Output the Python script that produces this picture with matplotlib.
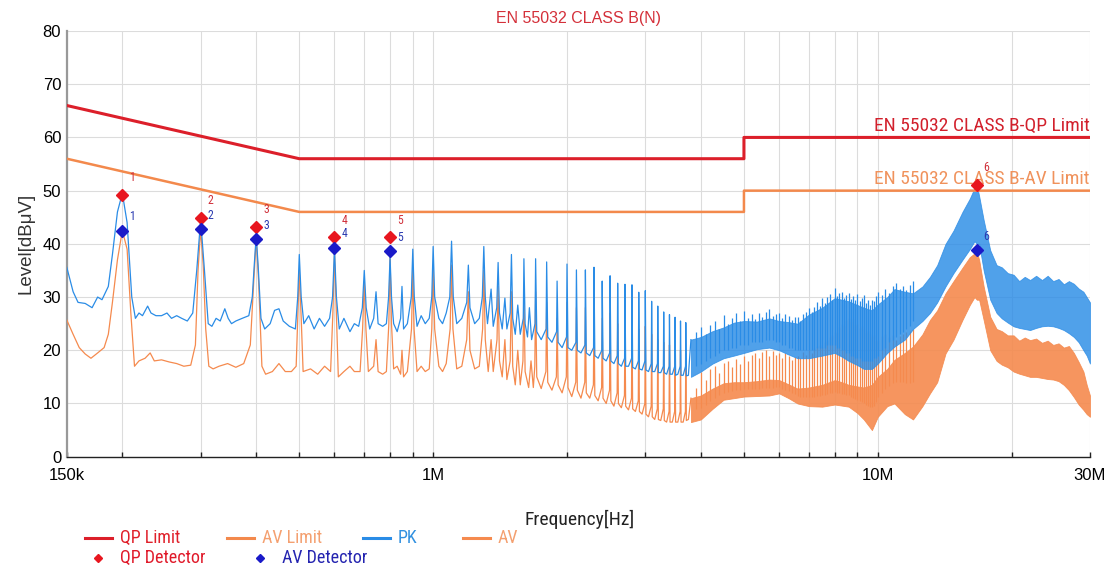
import numpy as np
import matplotlib
matplotlib.use('Agg')
import matplotlib.pyplot as plt
from matplotlib import font_manager
from matplotlib.ticker import FixedLocator, NullFormatter
from matplotlib.lines import Line2D

# ---- data (frequency in MHz, level in dBuV) ----
qp_lim_f = [0.15, 0.5, 5.0, 5.0, 30.0]
qp_lim_v = [66, 56, 56, 60, 60]
av_lim_f = [0.15, 0.5, 5.0, 5.0, 30.0]
av_lim_v = [56, 46, 46, 50, 50]

det_f = [0.200, 0.300, 0.400, 0.600, 0.800, 16.7]
qp_det_v = [49.2, 44.8, 43.1, 41.2, 41.2, 51.1]
av_det_v = [42.5, 42.7, 40.9, 39.3, 38.6, 38.8]
det_tags = ['1', '2', '3', '4', '5', '6']

# PK trace, low band (resolved harmonics)
pk_pts = [
    (0.150, 35.6), (0.155, 31.0), (0.159, 29.0), (0.165, 28.8), (0.171, 28.0), (0.176, 30.0),
    (0.180, 29.5), (0.186, 32.0), (0.190, 38.0), (0.195, 46.0), (0.200, 49.5), (0.205, 44.0),
    (0.210, 30.0), (0.214, 26.0), (0.218, 27.0), (0.222, 26.5), (0.228, 28.3), (0.232, 27.0),
    (0.238, 26.5), (0.245, 26.5), (0.252, 27.0), (0.258, 26.0), (0.265, 26.5), (0.272, 26.0),
    (0.280, 25.5), (0.288, 27.0), (0.294, 35.0), (0.300, 44.5), (0.306, 35.0), (0.312, 25.0),
    (0.318, 24.5), (0.325, 26.0), (0.332, 25.5), (0.340, 27.8), (0.346, 26.0), (0.352, 25.0),
    (0.360, 25.5), (0.372, 26.0), (0.385, 26.5), (0.392, 30.0), (0.396, 36.0), (0.400, 41.5),
    (0.404, 36.0), (0.410, 26.0), (0.418, 24.0), (0.430, 25.0), (0.440, 27.5), (0.450, 27.8),
    (0.460, 25.5), (0.475, 24.5), (0.490, 24.0), (0.496, 30.0), (0.500, 38.0), (0.505, 30.0),
    (0.512, 25.0), (0.525, 26.5), (0.540, 24.0), (0.555, 26.0), (0.570, 24.5), (0.585, 26.0),
    (0.594, 30.0), (0.600, 39.0), (0.606, 30.0), (0.615, 24.0), (0.630, 26.0), (0.650, 23.5),
    (0.665, 25.0), (0.680, 24.5), (0.693, 28.0), (0.700, 35.0), (0.707, 28.0), (0.720, 24.0),
    (0.735, 26.0), (0.744, 31.0), (0.752, 25.0), (0.770, 24.5), (0.785, 25.0), (0.794, 30.0),
    (0.800, 37.5), (0.806, 30.0), (0.815, 25.0), (0.830, 23.5), (0.845, 26.0), (0.851, 32.0),
    (0.858, 24.0), (0.875, 25.0), (0.893, 30.0), (0.900, 39.0), (0.907, 30.0), (0.920, 24.5),
    (0.940, 26.5), (0.960, 25.0), (0.980, 26.0), (0.993, 30.0), (1.000, 39.5), (1.008, 30.0),
    (1.030, 26.0), (1.050, 25.0), (1.070, 27.0), (1.090, 30.0), (1.100, 40.5), (1.110, 30.0),
    (1.130, 25.0), (1.160, 26.0), (1.190, 29.0), (1.200, 36.0), (1.210, 28.0), (1.240, 25.0),
    (1.270, 26.0), (1.290, 30.0), (1.300, 39.5), (1.310, 30.0), (1.325, 25.0), (1.350, 31.5),
    (1.365, 24.5), (1.390, 28.0), (1.400, 36.5), (1.410, 27.0), (1.430, 24.0), (1.450, 29.8),
    (1.465, 24.0), (1.490, 27.0), (1.500, 38.0), (1.510, 26.0), (1.530, 23.0), (1.550, 28.5),
    (1.570, 23.0), (1.595, 26.0), (1.600, 37.2), (1.610, 25.0), (1.630, 22.5), (1.646, 28.0),
    (1.665, 22.0), (1.695, 25.0), (1.700, 37.2), (1.710, 23.5), (1.750, 22.0), (1.795, 24.0),
    (1.800, 36.6), (1.810, 22.5), (1.850, 21.5), (1.895, 23.5), (1.900, 33.0), (1.910, 21.5),
    (1.950, 20.5), (1.995, 22.5), (2.000, 36.2), (2.010, 20.5), (2.050, 20.0), (2.095, 21.5),
    (2.100, 35.1), (2.110, 20.0), (2.150, 19.5), (2.195, 21.0), (2.200, 35.1), (2.210, 19.5),
    (2.250, 19.0), (2.295, 20.5), (2.300, 35.6), (2.310, 19.0), (2.350, 18.5), (2.395, 20.0),
    (2.400, 33.0), (2.410, 18.5), (2.450, 18.0), (2.495, 19.5), (2.500, 34.0), (2.510, 18.0),
    (2.550, 17.5), (2.595, 19.0), (2.600, 32.6), (2.610, 17.5), (2.650, 17.0), (2.695, 18.5),
    (2.700, 32.4), (2.710, 17.0), (2.750, 17.0), (2.795, 18.5), (2.800, 32.3), (2.810, 16.8),
    (2.850, 16.5), (2.895, 18.0), (2.900, 30.9), (2.910, 16.5), (2.950, 16.3), (2.995, 18.0),
    (3.000, 31.2), (3.010, 16.3), (3.050, 16.0), (3.095, 17.5), (3.100, 29.2), (3.110, 16.0),
    (3.150, 16.0), (3.195, 17.5), (3.200, 28.3), (3.210, 15.8), (3.250, 15.8), (3.295, 17.0),
    (3.300, 27.2), (3.310, 15.8), (3.350, 15.5), (3.395, 17.0), (3.400, 26.7), (3.410, 15.5),
    (3.450, 15.5), (3.495, 17.0), (3.500, 26.2), (3.510, 15.3), (3.550, 15.5), (3.595, 17.0),
    (3.600, 25.5), (3.610, 15.3), (3.650, 15.3), (3.695, 17.0), (3.700, 25.2), (3.710, 15.2),
    (3.750, 15.3), (3.800, 22.0),
]

# AV trace, low band
av_pts = [
    (0.150, 25.7), (0.155, 23.0), (0.160, 20.5), (0.165, 19.3), (0.170, 18.5), (0.176, 19.5),
    (0.182, 20.5), (0.186, 23.0), (0.190, 29.0), (0.195, 37.0), (0.200, 42.5), (0.205, 39.0),
    (0.209, 27.0), (0.213, 17.0), (0.218, 18.0), (0.225, 18.5), (0.231, 19.5), (0.236, 18.0),
    (0.245, 18.2), (0.255, 17.8), (0.265, 17.5), (0.275, 17.0), (0.285, 17.2), (0.292, 21.0),
    (0.296, 35.0), (0.300, 42.7), (0.304, 36.0), (0.308, 24.0), (0.313, 17.0), (0.320, 16.5),
    (0.330, 17.0), (0.345, 17.5), (0.360, 16.8), (0.375, 17.5), (0.388, 21.0), (0.395, 33.0),
    (0.400, 41.0), (0.405, 33.0), (0.412, 17.0), (0.420, 15.5), (0.435, 16.0), (0.450, 17.5),
    (0.465, 16.0), (0.480, 16.0), (0.492, 17.0), (0.496, 26.0), (0.500, 35.0), (0.505, 26.0),
    (0.510, 16.0), (0.530, 16.5), (0.550, 15.5), (0.570, 17.0), (0.588, 16.0), (0.595, 27.0),
    (0.600, 38.5), (0.606, 27.0), (0.612, 15.0), (0.630, 16.0), (0.650, 17.0), (0.665, 16.0),
    (0.685, 16.0), (0.694, 24.0), (0.700, 33.0), (0.706, 24.0), (0.715, 16.0), (0.735, 17.0),
    (0.744, 22.0), (0.752, 16.0), (0.770, 15.5), (0.785, 16.0), (0.795, 25.0), (0.800, 37.5),
    (0.806, 25.0), (0.815, 16.5), (0.830, 17.0), (0.845, 15.5), (0.851, 20.0), (0.858, 15.0),
    (0.875, 16.0), (0.894, 24.0), (0.900, 35.0), (0.906, 24.0), (0.920, 16.0), (0.940, 17.0),
    (0.960, 16.0), (0.980, 16.5), (0.993, 24.0), (1.000, 35.5), (1.008, 24.0), (1.030, 17.0),
    (1.050, 16.0), (1.070, 17.5), (1.092, 24.0), (1.100, 36.0), (1.108, 24.0), (1.130, 16.5),
    (1.160, 17.0), (1.190, 22.0), (1.200, 31.0), (1.210, 20.0), (1.240, 16.5), (1.270, 17.0),
    (1.292, 24.0), (1.300, 35.0), (1.310, 22.0), (1.330, 16.0), (1.350, 22.0), (1.365, 16.0),
    (1.392, 22.0), (1.400, 32.0), (1.410, 18.0), (1.430, 15.0), (1.450, 22.0), (1.465, 14.5),
    (1.490, 18.0), (1.500, 31.0), (1.510, 17.0), (1.530, 13.5), (1.550, 20.0), (1.570, 13.5),
    (1.592, 18.0), (1.600, 31.0), (1.610, 16.0), (1.640, 13.0), (1.660, 18.0), (1.680, 13.0),
    (1.693, 17.0), (1.700, 31.0), (1.710, 15.0), (1.750, 12.8), (1.793, 16.0), (1.800, 29.0),
    (1.810, 14.0), (1.850, 12.5), (1.893, 15.0), (1.900, 26.0), (1.910, 13.5), (1.950, 12.0),
    (1.993, 15.0), (2.000, 29.0), (2.010, 13.0), (2.050, 11.3), (2.093, 14.0), (2.100, 28.0),
    (2.110, 12.5), (2.150, 11.0), (2.193, 14.0), (2.200, 28.0), (2.210, 12.0), (2.250, 11.0),
    (2.293, 13.5), (2.300, 28.0), (2.310, 11.5), (2.350, 10.5), (2.393, 13.0), (2.400, 26.0),
    (2.410, 11.0), (2.450, 10.0), (2.493, 12.5), (2.500, 27.0), (2.510, 10.5), (2.550, 9.5),
    (2.593, 12.0), (2.600, 25.0), (2.610, 10.0), (2.650, 9.2), (2.693, 11.5), (2.700, 25.0),
    (2.710, 9.5), (2.750, 8.8), (2.793, 11.0), (2.800, 25.0), (2.810, 9.0), (2.850, 8.5),
    (2.893, 10.5), (2.900, 24.0), (2.910, 8.5), (2.950, 8.0), (2.993, 10.0), (3.000, 24.5),
    (3.010, 8.0), (3.050, 7.5), (3.093, 9.5), (3.100, 23.0), (3.110, 7.5), (3.150, 7.0),
    (3.193, 9.0), (3.200, 22.0), (3.210, 7.0), (3.250, 6.8), (3.293, 9.0), (3.300, 21.5),
    (3.310, 6.8), (3.350, 6.5), (3.393, 8.5), (3.400, 21.0), (3.410, 6.5), (3.450, 6.5),
    (3.493, 8.5), (3.500, 20.5), (3.510, 6.5), (3.550, 6.5), (3.593, 8.5), (3.600, 20.0),
    (3.610, 6.5), (3.650, 6.5), (3.693, 8.5), (3.700, 19.5), (3.710, 6.8), (3.750, 7.0),
    (3.800, 11.0),
]

# upper band (unresolved harmonics): lower/upper envelope of each trace
band_f = [3.8, 4.0, 4.25, 4.5, 4.75, 5.0, 5.35, 5.7, 6.0, 6.3,
          6.6, 7.0, 7.5, 8.0, 8.3, 8.6, 9.0, 9.3, 9.7, 10.0,
          10.5, 10.9, 11.5, 12.0, 12.6, 13.1, 13.6, 14.2, 14.8, 15.5,
          16.1, 16.5, 16.7, 16.9, 17.3, 17.9, 18.5, 19.0, 19.6, 20.2,
          20.8, 21.4, 22.0, 22.7, 23.4, 24.1, 24.8, 25.5, 26.2, 26.9,
          27.6, 28.3, 29.0, 29.5, 30.0]
pk_lo = [15.0, 16.0, 17.5, 18.5, 19.0, 19.5, 20.2, 20.5, 20.0, 19.2,
         18.5, 18.5, 19.0, 19.5, 18.8, 18.0, 17.2, 16.5, 16.5, 17.5,
         19.5, 20.7, 22.0, 24.0, 25.5, 27.0, 29.0, 32.0, 34.5, 37.0,
         39.0, 40.5, 40.0, 40.0, 35.0, 29.5, 27.0, 26.0, 25.2, 24.5,
         24.2, 24.0, 23.8, 24.2, 24.5, 24.6, 24.5, 24.2, 23.8, 23.2,
         22.5, 21.5, 20.0, 19.0, 17.5]
pk_hi = [22.0, 22.5, 23.6, 24.3, 25.2, 25.5, 25.4, 26.0, 25.5, 25.3,
         25.0, 26.7, 28.0, 29.8, 29.5, 29.2, 28.5, 28.0, 27.5, 28.6,
         30.0, 31.5, 31.0, 30.7, 32.0, 33.8, 36.0, 40.0, 42.5, 46.0,
         48.5, 50.5, 51.0, 49.0, 44.5, 38.8, 36.0, 35.6, 34.5, 34.2,
         33.0, 33.8, 33.2, 34.0, 33.2, 34.0, 33.0, 33.4, 32.4, 33.0,
         32.5, 31.6, 31.0, 30.0, 29.0]
av_lo = [6.5, 7.0, 9.0, 10.7, 11.0, 11.3, 11.4, 11.5, 11.9, 11.0,
         10.0, 9.5, 9.4, 9.8, 9.6, 9.4, 8.2, 7.0, 5.0, 7.5,
         9.5, 10.0, 8.0, 7.0, 9.5, 11.9, 14.0, 19.4, 22.0, 25.7,
         28.5, 30.0, 29.5, 29.5, 25.7, 20.0, 18.0, 17.3, 16.8, 16.0,
         15.6, 15.3, 15.0, 15.0, 14.8, 14.6, 14.5, 14.2, 13.5, 12.5,
         11.2, 9.8, 8.8, 8.0, 7.5]
av_hi = [11.0, 11.5, 12.8, 13.8, 14.0, 14.0, 14.2, 14.5, 14.4, 13.6,
         12.8, 13.0, 13.5, 14.4, 14.0, 13.5, 13.2, 13.0, 13.5, 15.0,
         16.5, 18.2, 19.5, 20.7, 23.0, 25.7, 27.5, 30.7, 33.0, 35.5,
         37.5, 38.2, 38.5, 37.0, 32.0, 26.3, 24.0, 23.6, 22.8, 22.8,
         21.8, 22.4, 21.9, 22.2, 21.4, 21.8, 21.0, 21.3, 20.5, 20.8,
         19.5, 17.8, 16.0, 13.5, 11.5]

# harmonic spikes sticking out of the band (top and foot of each)
spk_f = [3.9, 4.0, 4.1, 4.2, 4.3, 4.4, 4.5, 4.6, 4.7, 4.8,
         4.9, 5.0, 5.1, 5.2, 5.3, 5.4, 5.5, 5.6, 5.7, 5.8,
         5.9, 6.0, 6.1, 6.2, 6.3, 6.4, 6.5, 6.6, 6.7, 6.8,
         6.9, 7.0, 7.1, 7.2, 7.3, 7.4, 7.5, 7.6, 7.7, 7.8,
         7.9, 8.0, 8.1, 8.2, 8.3, 8.4, 8.5, 8.6, 8.7, 8.8,
         8.9, 9.0, 9.1, 9.2, 9.3, 9.4, 9.5, 9.6, 9.7, 9.8,
         9.9, 10.0, 10.2, 10.4, 10.6, 10.8, 11.0, 11.2, 11.4, 11.6,
         11.8, 12.0]
pk_spk = [23.5, 24.3, 23.0, 24.8, 25.5, 24.0, 26.7, 25.0, 26.0, 27.0,
          25.5, 27.3, 26.0, 26.8, 25.8, 27.0, 26.2, 27.2, 27.7, 26.5,
          26.8, 27.0, 26.0, 26.8, 26.5, 25.6, 26.2, 26.3, 25.5, 26.8,
          27.2, 28.0, 27.2, 28.2, 29.0, 28.4, 29.8, 28.8, 30.0, 30.5,
          29.5, 31.7, 30.2, 30.8, 31.0, 29.8, 30.4, 30.8, 29.6, 30.2,
          29.4, 30.5, 29.2, 29.8, 30.4, 28.8, 29.4, 28.6, 29.5, 29.2,
          30.2, 31.0, 30.4, 31.5, 30.8, 32.0, 32.6, 31.6, 32.0, 31.4,
          32.2, 33.0]
pk_spk_foot = [17.0, 17.5, 18.0, 18.5, 19.0, 19.5, 20.0, 20.0, 20.5, 20.5,
               21.0, 21.0, 21.0, 21.5, 21.5, 21.5, 21.5, 22.0, 22.0, 22.0,
               21.5, 21.5, 21.0, 21.0, 20.5, 20.5, 20.0, 20.0, 20.0, 20.0,
               20.0, 20.0, 20.0, 20.0, 20.5, 20.5, 20.5, 20.5, 21.0, 21.0,
               21.0, 21.0, 20.5, 20.5, 20.0, 20.0, 19.5, 19.5, 19.0, 19.0,
               18.5, 18.5, 18.5, 18.0, 18.0, 18.0, 18.0, 18.0, 18.0, 18.5,
               18.5, 19.0, 20.0, 20.5, 21.5, 22.0, 22.5, 23.0, 23.5, 24.0,
               24.5, 25.5]
av_spk = [13.0, 16.0, 14.5, 16.5, 17.0, 15.8, 17.6, 18.0, 16.8, 18.4,
          17.5, 19.0, 18.0, 19.2, 19.5, 18.5, 19.6, 20.0, 19.0, 19.8,
          19.2, 19.5, 18.6, 19.4, 19.0, 18.2, 18.8, 19.0, 18.5, 19.6,
          19.2, 20.0, 19.5, 20.4, 20.8, 21.0, 20.6, 21.6, 22.0, 22.4,
          22.8, 23.5, 23.2, 24.4, 25.0, 24.6, 25.6, 26.0, 25.4, 25.8,
          24.8, 25.0, 24.2, 24.6, 24.0, 23.2, 23.6, 23.0, 22.4, 22.8,
          21.8, 22.0, 22.6, 23.0, 22.4, 22.8, 22.0, 22.6, 23.0, 23.4,
          23.6, 24.0]
av_spk_foot = [9.0, 9.2, 9.8, 10.5, 11.0, 11.5, 12.0, 12.2, 12.4, 12.5,
               12.6, 12.7, 12.7, 12.8, 12.8, 12.8, 12.9, 13.0, 13.0, 13.0,
               13.1, 13.1, 12.8, 12.6, 12.3, 12.0, 11.7, 11.4, 11.3, 11.3,
               11.2, 11.2, 11.3, 11.3, 11.4, 11.4, 11.5, 11.6, 11.7, 11.9,
               12.0, 12.1, 12.0, 11.9, 11.8, 11.7, 11.6, 11.5, 11.3, 11.1,
               10.9, 10.7, 10.5, 10.2, 10.0, 9.8, 9.6, 9.4, 9.3, 9.6,
               10.2, 11.3, 12.0, 12.8, 13.3, 13.8, 14.0, 14.0, 14.0, 13.8,
               13.8, 14.0]

x_major = [0.15, 1.0, 10.0, 30.0]
x_major_lbl = ['150k', '1M', '10M', '30M']
x_minor = [0.2, 0.3, 0.4, 0.5, 0.6, 0.7, 0.8, 0.9, 2, 3, 4, 5, 6, 7, 8, 9, 20]

# ---- style ----
C_QP = '#dc1f2a'
C_AVL = '#f3894c'
C_PK = '#2a8ce6'
C_AV = '#f58a4e'
C_QPD = '#e8161f'
C_AVD = '#1a1ac8'

plt.rcParams['font.family'] = ['Liberation Sans', 'DejaVu Sans']

# narrow face if one is installed, otherwise the regular one a bit smaller
installed = {f.name for f in font_manager.fontManager.ttflist}
narrow = None
for cand in ['Liberation Sans Narrow', 'Arial Narrow', 'Roboto Condensed', 'Open Sans Condensed']:
    if cand in installed:
        narrow = cand
        break
if narrow:
    NF = [narrow, 'Liberation Sans', 'DejaVu Sans']
    sz_lim, sz_leg, sz_xl = 14, 13, 14
else:
    NF = ['Liberation Sans', 'DejaVu Sans']
    sz_lim, sz_leg, sz_xl = 11.5, 11, 11.8

MHZ = 1e6

fig = plt.figure(figsize=(11.13, 5.71), dpi=100)
ax = fig.add_axes([0.0600, 0.2002, 0.9193, 0.7455])

ax.set_xscale('log')
ax.set_xlim(0.15 * MHZ, 30 * MHZ)
ax.set_ylim(0, 80)

# limits
ax.plot(np.array(qp_lim_f) * MHZ, qp_lim_v, color=C_QP, lw=2.2, zorder=6)
ax.plot(np.array(av_lim_f) * MHZ, av_lim_v, color=C_AVL, lw=1.8, zorder=6)

spk_hz = np.array(spk_f) * MHZ
band_hz = np.array(band_f) * MHZ

# AV trace
av_f, av_v = zip(*av_pts)
ax.plot(np.array(av_f) * MHZ, av_v, color=C_AV, lw=0.9, zorder=3)
ax.vlines(spk_hz, av_spk_foot, av_spk, color=C_AV, lw=0.9, zorder=3)
ax.fill_between(band_hz, av_lo, av_hi, color=C_AV, lw=0.6, alpha=0.9, zorder=3)

# PK trace
pk_f, pk_v = zip(*pk_pts)
ax.plot(np.array(pk_f) * MHZ, pk_v, color=C_PK, lw=0.9, zorder=4)
ax.vlines(spk_hz, pk_spk_foot, pk_spk, color=C_PK, lw=0.9, zorder=4)
ax.fill_between(band_hz, pk_lo, pk_hi, color=C_PK, lw=0.6, alpha=0.82, zorder=4)

# detector markers
det_hz = np.array(det_f) * MHZ
ax.plot(det_hz, qp_det_v, ls='none', marker='D', ms=6.5, color=C_QPD, zorder=8)
ax.plot(det_hz, av_det_v, ls='none', marker='D', ms=6.5, color=C_AVD, zorder=8)
for f, q, a, t in zip(det_hz, qp_det_v, av_det_v, det_tags):
    ax.annotate(t, (f, q), xytext=(7, 12.5), textcoords='offset points', ha='center',
                va='center', fontsize=8.5, color='#d0303a', family=NF, zorder=9)
    ax.annotate(t, (f, a), xytext=(7, 9.8), textcoords='offset points', ha='center',
                va='center', fontsize=8.5, color='#2a3ab0', family=NF, zorder=9)

# limit labels
ax.text(30 * MHZ, 61.3, 'EN 55032 CLASS B-QP Limit', ha='right', va='baseline',
        fontsize=sz_lim, color='#d2202c', family=NF, zorder=7)
ax.text(30 * MHZ, 51.2, 'EN 55032 CLASS B-AV Limit', ha='right', va='baseline',
        fontsize=sz_lim, color='#f0925c', family=NF, zorder=7)

# axes cosmetics
ax.xaxis.set_major_locator(FixedLocator(np.array(x_major) * MHZ))
ax.xaxis.set_minor_locator(FixedLocator(np.array(x_minor) * MHZ))
ax.set_xticklabels(x_major_lbl)
ax.xaxis.set_minor_formatter(NullFormatter())
ax.set_yticks(range(0, 81, 10))
ax.grid(True, which='both', color='#dcdcdc', lw=0.8, zorder=0)
ax.set_axisbelow(True)
for s in ['top', 'right']:
    ax.spines[s].set_visible(False)
ax.spines['left'].set_color('#999999')
ax.spines['left'].set_linewidth(1.6)
ax.spines['bottom'].set_color('#222222')
ax.spines['bottom'].set_linewidth(1.0)
ax.tick_params(axis='x', which='both', direction='in', length=3.5, width=1.0,
               color='#222222', pad=8.5, labelsize=12)
ax.tick_params(axis='y', length=0, pad=4, labelsize=12)

ax.set_title('EN 55032 CLASS B(N)', color='#d4303a', fontsize=11.5, pad=6)
ax.set_ylabel('Level[dB\u03bcV]', fontsize=13.5, color='#333333', labelpad=6)
fig.text(580 / 1113, 1 - 519 / 571, 'Frequency[Hz]', ha='center', va='center',
         fontsize=sz_xl, color='#222222', family=NF)


# legend drawn by hand (figure pixel positions)
def fx(px):
    return px / 1113


def fy(py):
    return 1 - py / 571


row1 = [('QP Limit', C_QP, 85, '#e0202a'), ('AV Limit', C_AVL, 227, '#f4a070'),
        ('PK', C_PK, 363, '#3090e0'), ('AV', C_AV, 463, '#f4a070')]
for lbl, c, x0, tc in row1:
    fig.add_artist(Line2D([fx(x0), fx(x0 + 27)], [fy(538), fy(538)], color=c, lw=2.2))
    fig.text(fx(x0 + 35), fy(538), lbl, ha='left', va='center', fontsize=sz_leg,
             color=tc, family=NF)
row2 = [('QP Detector', C_QPD, 98, '#e01a2a'), ('AV Detector', C_AVD, 260, '#2424b0')]
for lbl, c, x0, tc in row2:
    fig.add_artist(Line2D([fx(x0)], [fy(558)], marker='D', ms=4.5, color=c, ls='none'))
    fig.text(fx(x0 + 22), fy(558), lbl, ha='left', va='center', fontsize=sz_leg,
             color=tc, family=NF)

fig.savefig('out.png', dpi=100, facecolor='white')
